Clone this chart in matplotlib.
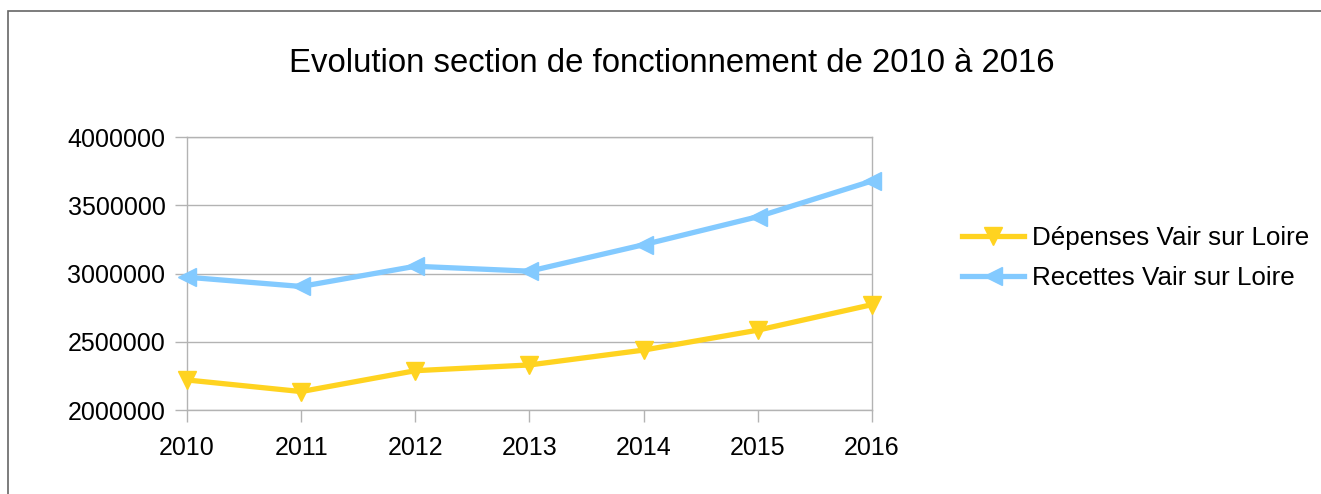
import matplotlib
matplotlib.use("Agg")
import matplotlib.pyplot as plt
from matplotlib.patches import Rectangle

years = [2010, 2011, 2012, 2013, 2014, 2015, 2016]
depenses = [2220000, 2135000, 2288000, 2330000, 2439000, 2585000, 2772000]
recettes = [2973000, 2905000, 3053000, 3017000, 3211000, 3416000, 3678000]
yticks = [2000000, 2500000, 3000000, 3500000, 4000000]

plt.rcParams['font.family'] = ['Liberation Sans', 'DejaVu Sans']

fig = plt.figure(figsize=(13.21, 4.94), dpi=100)
fig.patches.append(Rectangle((8/1321, -0.1), 1.2, 1 - 11/494 + 0.1, transform=fig.transFigure,
                             fill=False, edgecolor='#666666', linewidth=1.2))

ax = fig.add_axes([187/1321, 1 - 410/494, (872-187)/1321, (410-137)/494])
grid_c = '#b3b3b3'
ax.plot(years, depenses, color='#ffd320', linewidth=3.8, marker='v', markersize=13,
        label='Dépenses Vair sur Loire', clip_on=False, zorder=3)
ax.plot(years, recettes, color='#83caff', linewidth=3.8, marker='<', markersize=13,
        label='Recettes Vair sur Loire', clip_on=False, zorder=3)

ax.set_xlim(2010, 2016)
ax.set_ylim(2000000, 4000000)
ax.set_xticks(years)
ax.set_xticklabels([str(y) for y in years])
ax.set_yticks(yticks)
ax.set_yticklabels([str(v) for v in yticks])
ax.yaxis.grid(True, color=grid_c, linewidth=1)
ax.set_axisbelow(True)
for s in ax.spines.values():
    s.set_color(grid_c)
    s.set_linewidth(1)
ax.tick_params(axis='both', colors=grid_c, labelcolor='black', labelsize=18, length=8.5, width=1)
ax.tick_params(axis='x', pad=10)
ax.tick_params(axis='y', pad=7)

fig.text(672/1321, 1 - 63/494, 'Evolution section de fonctionnement de 2010 à 2016',
         ha='center', va='center', fontsize=23.7)

ax.legend(loc='center left', bbox_to_anchor=(962/1321, 1 - 258/494), bbox_transform=fig.transFigure,
          frameon=False, fontsize=18.7, handlelength=2.4, labelspacing=0.62, handletextpad=0.3,
          borderpad=0, borderaxespad=0, markerscale=1)

fig.savefig('out.png', dpi=100)
